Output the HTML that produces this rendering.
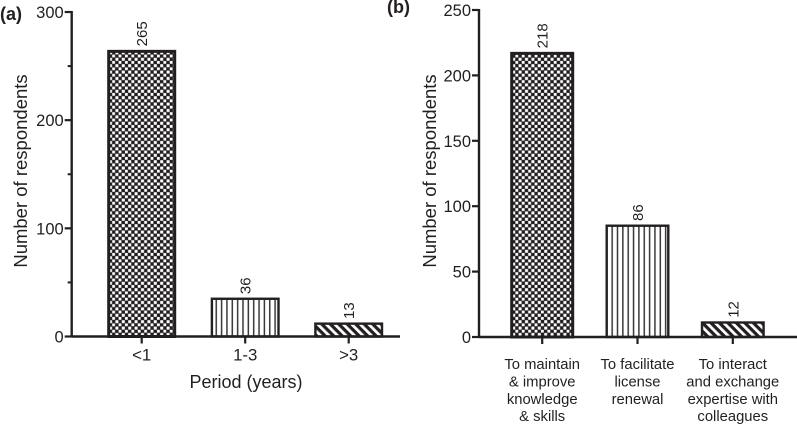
<!DOCTYPE html>
<html>
<head>
<meta charset="utf-8">
<style>
html,body{margin:0;padding:0;background:#fff;}
svg{display:block;}
text{font-family:"Liberation Sans",sans-serif;fill:#231f20;}
</style>
</head>
<body>
<svg id="chart" width="797" height="424" viewBox="0 0 797 424" xmlns="http://www.w3.org/2000/svg">
<defs>
<pattern id="pat-check" patternUnits="userSpaceOnUse" width="6.4" height="6.4" x="0" y="0">
<rect width="6.4" height="6.4" fill="#231f20"/>
<rect x="0.2" y="0.2" width="3" height="3" fill="#fff"/>
<rect x="3.4" y="3.4" width="2.8" height="2.8" fill="#fff"/>
</pattern>
<pattern id="pat-vert" patternUnits="userSpaceOnUse" width="5.35" height="10">
<rect width="5.35" height="10" fill="#fff"/>
<rect x="1.5" width="1.5" height="10" fill="#3a3738"/>
</pattern>
<pattern id="pat-diag" patternUnits="userSpaceOnUse" width="6" height="6" patternTransform="rotate(45)">
<rect width="6" height="6" fill="#fff"/>
<rect width="6" height="3.2" fill="#231f20"/>
</pattern>
</defs>
<g id="panels"></g>
</svg>
<script>
var panelACategories = ['<1', '1-3', '>3'];
var panelAValues = [265, 36, 13];
var panelATicks = [0, 100, 200, 300];
var panelAMinorTicks = [50, 150, 250];
var panelBCategories = [
  ['To maintain', '& improve', 'knowledge', '& skills'],
  ['To facilitate', 'license', 'renewal'],
  ['To interact', 'and exchange', 'expertise with', 'colleagues']
];
var panelBValues = [218, 86, 12];
var panelBTicks = [0, 50, 100, 150, 200, 250];
var panelBMinorTicks = [];
var fills = ['url(#pat-check)', 'url(#pat-vert)', 'url(#pat-diag)'];
var NS = 'http://www.w3.org/2000/svg';
var root = document.getElementById('panels');

function make(tag, attrs, parent, txt) {
  var el = document.createElementNS(NS, tag);
  for (var k in attrs) { el.setAttribute(k, attrs[k]); }
  if (txt !== undefined) { el.textContent = txt; }
  parent.appendChild(el);
  return el;
}

function drawPanel(cfg) {
  var y = function (v) { return cfg.y0 + (cfg.yTop - cfg.y0) * v / cfg.max; };
  var x = function (i) { return cfg.xFirst + i * cfg.step; };
  var g = make('g', {}, root);
  
  

  var label = make('text', {x: cfg.labelX, y: cfg.labelY, 'font-size': 18, 'font-weight': 'bold'}, g, cfg.label);
  
  

  cfg.values.forEach(function (v, i) {
    var top = y(v);
    var sw = i === 0 ? 3 : 2.4;
    var bar = make('rect', {
      x: x(i) - cfg.barW / 2 + sw / 2, y: top + sw / 2,
      width: cfg.barW - sw, height: cfg.y0 - top - sw / 2,
      fill: fills[i], stroke: '#231f20', 'stroke-width': sw
    }, g);
    
    
    var vx = x(i) + 5.5, vy = top - 3.5;
    var val = make('text', {
      x: vx, y: vy, 'font-size': 15,
      transform: 'rotate(-90 ' + vx + ' ' + vy + ')'
    }, g, String(v));
    
    
  });

  cfg.ticks.forEach(function (t) {
    var tick = make('line', {x1: cfg.axisX - 7, x2: cfg.axisX, y1: y(t), y2: y(t), stroke: '#231f20', 'stroke-width': 2.2}, g);
    
    
    var tl = make('text', {x: cfg.axisX - 8, y: y(t) + 6, 'font-size': 16.5, 'text-anchor': 'end'}, g, String(t));
    
    
  });
  cfg.minor.forEach(function (t) {
    var tick = make('line', {x1: cfg.axisX - 4, x2: cfg.axisX, y1: y(t), y2: y(t), stroke: '#231f20', 'stroke-width': 2}, g);
    
    
  });

  var yAxis = make('line', {x1: cfg.axisX, x2: cfg.axisX, y1: cfg.yTop - 1, y2: cfg.y0 + 1, stroke: '#231f20', 'stroke-width': 2.4}, g);
  
  
  var xAxis = make('line', {x1: cfg.axisX, x2: cfg.xEnd, y1: cfg.y0, y2: cfg.y0, stroke: '#231f20', 'stroke-width': 2.4}, g);
  
  

  cfg.categories.forEach(function (c, i) {
    var tick = make('line', {x1: x(i), x2: x(i), y1: cfg.y0, y2: cfg.y0 + 7, stroke: '#231f20', 'stroke-width': 2.2}, g);
    
    
    var lines = Array.isArray(c) ? c : [c];
    lines.forEach(function (ln, j) {
      var tl = make('text', {x: x(i), y: cfg.catY + j * cfg.catLH, 'font-size': cfg.catSize, 'text-anchor': 'middle'}, g, ln);
      
      
    });
  });

  var ty = make('text', {
    x: cfg.titleX, y: cfg.titleY, 'font-size': 18.5, 'text-anchor': 'middle',
    transform: 'rotate(-90 ' + cfg.titleX + ' ' + cfg.titleY + ')'
  }, g, 'Number of respondents');
  
  

  if (cfg.xTitle) {
    var tx = make('text', {x: cfg.xTitleX, y: cfg.xTitleY, 'font-size': 18, 'text-anchor': 'middle'}, g, cfg.xTitle);
    
    
  }
}

drawPanel({
  name: 'panel-a', label: '(a)', labelX: 0, labelY: 20,
  values: panelAValues, categories: panelACategories, ticks: panelATicks, minor: panelAMinorTicks,
  max: 300, y0: 336.5, yTop: 12, axisX: 71.7, xEnd: 400, xFirst: 141.7, step: 103.5, barW: 69,
  catY: 360.5, catLH: 17, catSize: 16.8, titleX: 27, titleY: 171,
  xTitle: 'Period (years)', xTitleX: 246, xTitleY: 388
});
drawPanel({
  name: 'panel-b', label: '(b)', labelX: 387, labelY: 13,
  values: panelBValues, categories: panelBCategories, ticks: panelBTicks, minor: panelBMinorTicks,
  max: 250, y0: 337, yTop: 10, axisX: 479, xEnd: 797, xFirst: 542.2, step: 95.3, barW: 64,
  catY: 369, catLH: 17.4, catSize: 14.8, titleX: 436, titleY: 171
});
</script>
</body>
</html>
